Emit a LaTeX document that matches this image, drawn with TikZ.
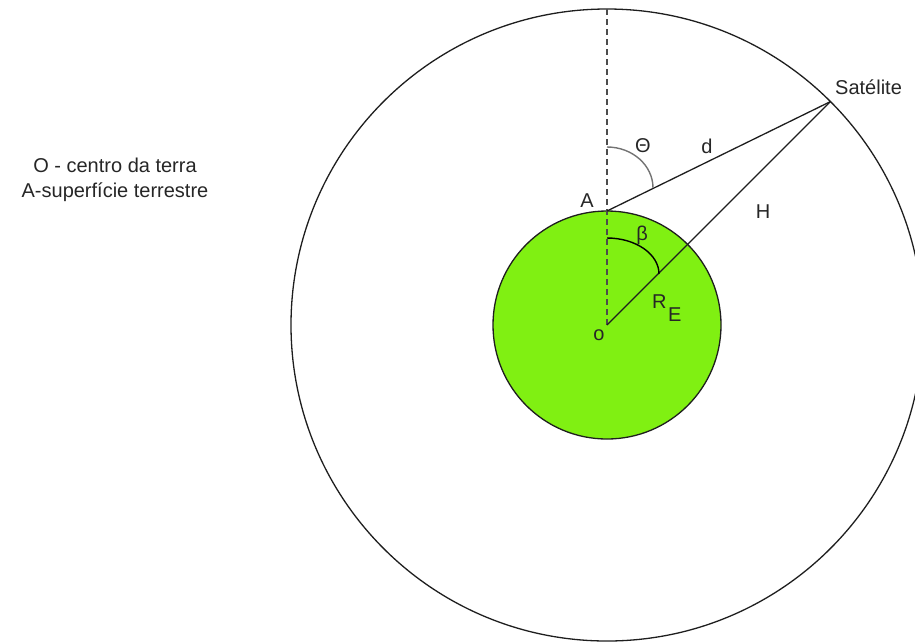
\documentclass[tikz,border=0pt]{standalone}
\usepackage{fontspec}
\setmainfont{Liberation Sans}
\definecolor{earth}{RGB}{128,240,18}
\definecolor{linec}{RGB}{30,30,30}
\begin{document}
\begin{tikzpicture}[x=1pt,y=-1pt,
  lbl/.style={font=\fontsize{20}{25}\selectfont,inner sep=0pt,text=black!85},
  ln/.style={draw=linec,line width=1.3pt}]
\useasboundingbox (0,0) rectangle (915,641);
\begin{scope}
\clip (0,0) rectangle (915,641);
\node[circle,draw=linec,line width=1.3pt,minimum size=632pt,inner sep=0pt] (orbit) at (607,325) {};
\end{scope}
\node[circle,draw=linec,fill=earth,line width=1.3pt,minimum size=228pt,inner sep=0pt] (earthc) at (607,325) {};
\coordinate (O) at (607,325);
\coordinate (A) at (607,211);
\coordinate (top) at (607,9);
\coordinate (S) at (830.4,101.6);
\draw[draw=black!70,line width=1.6pt,dash pattern=on 6pt off 4pt] (top) -- (O);
\draw[ln] (A) -- (S);
\draw[ln] (O) -- (S);
\draw[draw=black!55,line width=1.4pt] (607,147) arc[start angle=-90,end angle=0,x radius=46,y radius=41];
\draw[draw=black,line width=1.4pt] (607,238) arc[start angle=-90,end angle=0,x radius=52,y radius=36];
\node[lbl] (theta) at (643,146) {Θ};
\node[lbl] (dl) at (707,146) {d};
\node[lbl] (Al) at (587,201) {A};
\node[lbl] (Hl) at (763,212) {H};
\node[lbl] (beta) at (642,235) {β};
\node[lbl,anchor=base west] (RE) at (652,308) {R\kern1.5pt\raisebox{-13pt}{E}};
\node[lbl] (ol) at (599,335) {o};
\node[lbl,anchor=west] (sat) at (835,87) {Satélite};
\node[lbl,align=center] (legend) at (115,180) {O - centro da terra\\A-superfície terrestre};
\end{tikzpicture}
\end{document}
